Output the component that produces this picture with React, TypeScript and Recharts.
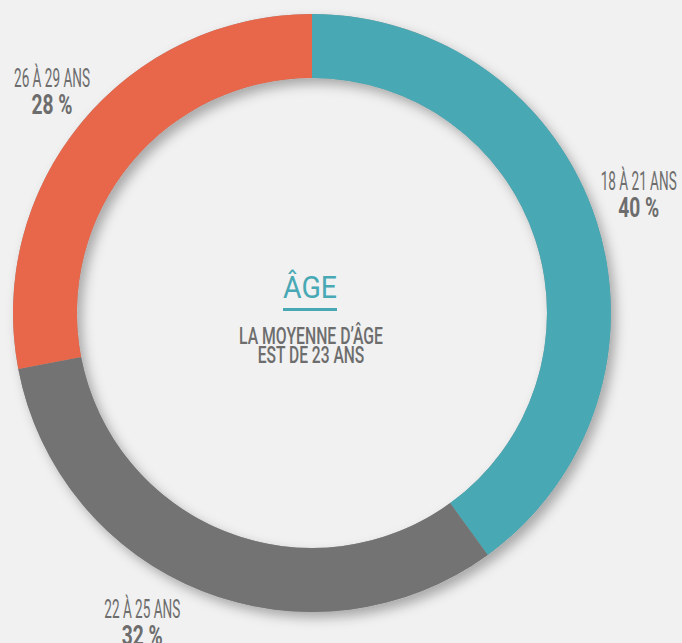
import { Label, Pie, PieChart, Cell } from "recharts";

const ageGroups = ["18 À 21 ANS", "22 À 25 ANS", "26 À 29 ANS"];
const shares = [40, 32, 28];
const sliceColors = ["#48a9b5", "#737373", "#e8664a"];
const centerTitle = "ÂGE";
const centerLines = ["LA MOYENNE D’ÂGE", "EST DE 23 ANS"];

const data = ageGroups.map((name, i) => ({ name, value: shares[i] }));

const FONT = "Roboto, 'DejaVu Sans', sans-serif";
const TEXT = "#6d6d6d";
const TEAL = "#48a9b5";
const RADIAN = Math.PI / 180;
// small nudges (degrees, radius) so the labels sit where the original put them
const labelAngleNudge = [2.6, -7.5, -1.4];
const labelRadius = [349, 349, 344.5];

let ctx: CanvasRenderingContext2D | null = null;
function measure(text: string, size: number, weight: number | string) {
  if (!ctx) ctx = document.createElement("canvas").getContext("2d");
  if (!ctx) return text.length * size * 0.55;
  ctx.font = `${weight} ${size}px ${FONT}`;
  return ctx.measureText(text).width;
}

// text squeezed horizontally to mimic the condensed face of the original
const FitText = ({ x, y, width, size, weight = 400, fill = TEXT, children }: any) => {
  const natural = measure(children, size, weight);
  const sx = width / natural;
  return (
    <text
      transform={`translate(${x},${y}) scale(${sx},1)`}
      textAnchor="middle"
      fill={fill}
      fontFamily={FONT}
      fontSize={size}
      fontWeight={weight}
    >
      {children}
    </text>
  );
};

const renderLabel = (props: any) => {
  const { cx, cy, midAngle, index } = props;
  const angle = (midAngle + labelAngleNudge[index]) * RADIAN;
  const r = labelRadius[index];
  const x = cx + r * Math.cos(angle);
  const y = cy - r * Math.sin(angle);
  return (
    <g key={`lbl-${index}`}>
      <FitText x={x} y={y} width={76} size={25} weight={400}>
        {ageGroups[index]}
      </FitText>
      <FitText x={x} y={y + 27} width={41} size={28} weight={700}>
        {`${shares[index]} %`}
      </FitText>
    </g>
  );
};

const renderCenter = (props: any) => {
  const vb = props.viewBox || {};
  const cx = vb.cx ?? 312;
  const cy = vb.cy ?? 313;
  return (
    <g>
      <FitText x={cx - 2} y={cy - 15} width={54} size={32} weight={400} fill={TEAL}>
        {centerTitle}
      </FitText>
      <rect x={cx - 29} y={cy - 5} width={54} height={3} fill={TEAL} />
      <FitText x={cx - 1} y={cy + 31} width={144} size={23} weight={500}>
        {centerLines[0]}
      </FitText>
      <FitText x={cx - 1} y={cy + 50} width={107} size={23} weight={500}>
        {centerLines[1]}
      </FitText>
    </g>
  );
};

export default function App() {
  return (
    <div style={{ position: "absolute", left: 0, top: 0, width: 682, height: 643, background: "#f1f1f1", overflow: "hidden" }}>
      <PieChart width={682} height={643} margin={{ top: 0, right: 0, bottom: 0, left: 0 }}>
        <defs>
          <filter id="ringShadow" x="-20%" y="-20%" width="140%" height="140%">
            <feDropShadow dx={5} dy={6} stdDeviation={6} floodColor="#000" floodOpacity={0.3} />
          </filter>
        </defs>
        <Pie
          data={[{ name: "shadow", value: 1 }]}
          dataKey="value"
          cx={312}
          cy={313}
          innerRadius={235}
          outerRadius={299}
          startAngle={90}
          endAngle={-270}
          stroke="none"
          fill="#999"
          isAnimationActive={false}
        >
          <Cell fill="#999" stroke="none" style={{ filter: "url(#ringShadow)" }} />
        </Pie>
        <Pie
          data={data}
          dataKey="value"
          cx={312}
          cy={313}
          innerRadius={235}
          outerRadius={299}
          startAngle={90}
          endAngle={-270}
          stroke="none"
          label={renderLabel}
          labelLine={false}
          isAnimationActive={false}
        >
          {data.map((d, i) => (
            <Cell key={d.name} fill={sliceColors[i]} stroke="none" />
          ))}
          <Label position="center" content={renderCenter} />
        </Pie>
      </PieChart>
    </div>
  );
}
